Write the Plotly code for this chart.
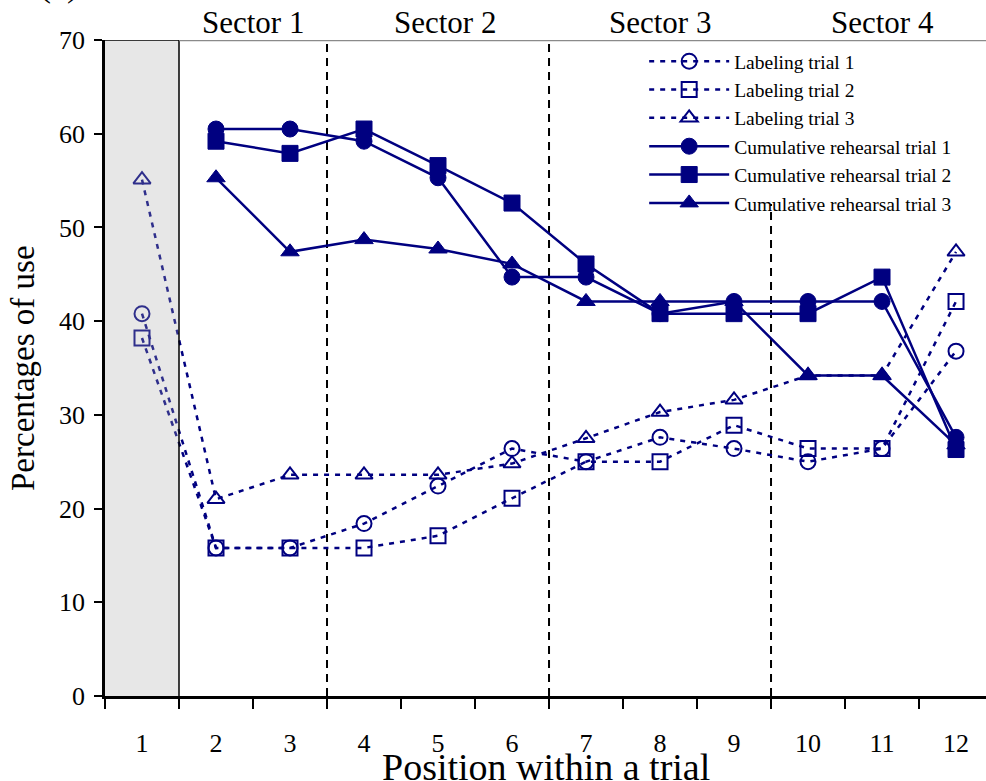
import plotly.graph_objects as go

positions = list(range(1, 13))
tick_labels = [str(p) for p in positions]

labeling_1 = [40.8, 15.8, 15.8, 18.4, 22.4, 26.4, 25.0, 27.6, 26.4, 25.0, 26.4, 36.8]
labeling_2 = [38.2, 15.8, 15.8, 15.8, 17.1, 21.1, 25.0, 25.0, 28.9, 26.4, 26.4, 42.1]
labeling_3 = [55.1, 21.0, 23.6, 23.6, 23.6, 24.8, 27.5, 30.3, 31.6, 34.2, 34.2, 47.4]

cum_positions = list(range(2, 13))
cumulative_1 = [60.5, 60.5, 59.2, 55.3, 44.7, 44.7, 40.8, 42.1, 42.1, 42.1, 27.6]
cumulative_2 = [59.2, 57.9, 60.5, 56.6, 52.6, 46.1, 40.8, 40.8, 40.8, 44.7, 26.3]
cumulative_3 = [55.3, 47.4, 48.7, 47.7, 46.1, 42.1, 42.1, 42.1, 34.2, 34.2, 26.8]

sector_names = ["Sector 1", "Sector 2", "Sector 3", "Sector 4"]
sector_centers = [2.5, 5.1, 8.0, 11.0]
sector_bounds = [3.5, 6.5, 9.5]

NAVY = "#000080"
FONT = "Liberation Serif"

fig = go.Figure()

lab_series = [("Labeling trial 1", labeling_1, "circle-open"),
              ("Labeling trial 2", labeling_2, "square-open"),
              ("Labeling trial 3", labeling_3, "triangle-up-open")]
for name, vals, sym in lab_series:
    fig.add_trace(go.Scatter(
        x=positions, y=vals, name=name, mode="lines+markers",
        line=dict(color=NAVY, width=2.5, dash="5px,6px"),
        marker=dict(symbol=sym, size=15, color=NAVY, line=dict(color=NAVY, width=2)),
    ))

cum_series = [("Cumulative rehearsal trial 1", cumulative_1, "circle"),
              ("Cumulative rehearsal trial 2", cumulative_2, "square"),
              ("Cumulative rehearsal trial 3", cumulative_3, "triangle-up")]
for name, vals, sym in cum_series:
    fig.add_trace(go.Scatter(
        x=cum_positions, y=vals, name=name, mode="lines+markers",
        line=dict(color=NAVY, width=2.5),
        marker=dict(symbol=sym, size=16, color=NAVY, line=dict(color=NAVY, width=1)),
    ))

shapes = []
# gray overlay for position 1
shapes.append(dict(type="rect", xref="x", yref="y", x0=0.5, x1=1.5, y0=0, y1=70,
                   fillcolor="rgba(170,170,170,0.28)", line=dict(width=0), layer="above"))
shapes.append(dict(type="line", xref="x", yref="y", x0=1.5, x1=1.5, y0=0, y1=70,
                   line=dict(color="black", width=1.5), layer="above"))
shapes.append(dict(type="line", xref="x", yref="y", x0=0.5, x1=1.5, y0=70, y1=70,
                   line=dict(color="black", width=1.5), layer="above"))
# top gray border
shapes.append(dict(type="line", xref="x", yref="y", x0=1.5, x1=12.5, y0=70, y1=70,
                   line=dict(color="#8a8a8a", width=2.5), layer="above"))
# sector boundaries
for i, b in enumerate(sector_bounds):
    top = 70 if i < 2 else 52.5
    shapes.append(dict(type="line", xref="x", yref="y", x0=b, x1=b, y0=0, y1=top,
                       line=dict(color="black", width=2, dash="8px,6px"), layer="below"))

annotations = []
for name, c in zip(sector_names, sector_centers):
    annotations.append(dict(x=c, y=70, xref="x", yref="y", text=name, showarrow=False,
                            yanchor="bottom", yshift=-2, font=dict(family=FONT, size=31, color="black")))
annotations.append(dict(x=0.5, y=0, xref="paper", yref="paper", text="Position within a trial",
                        showarrow=False, yanchor="middle", yshift=-71,
                        font=dict(family=FONT, size=38, color="black")))
annotations.append(dict(x=0, y=0.5, xref="paper", yref="paper", text="Percentages of use",
                        showarrow=False, textangle=-90, xanchor="center", xshift=-82,
                        font=dict(family=FONT, size=33, color="black")))
annotations.append(dict(x=0, y=1, xref="paper", yref="paper", text="(a)",
                        showarrow=False, xshift=-68, yshift=34, yanchor="bottom",
                        font=dict(family=FONT, size=36, color="black")))

fig.update_layout(
    width=986, height=781,
    margin=dict(l=105, r=0, t=40, b=85),
    plot_bgcolor="white", paper_bgcolor="white",
    font=dict(family=FONT, color="black"),
    shapes=shapes, annotations=annotations,
    legend=dict(x=0.612, y=0.997, xanchor="left", yanchor="top",
                bgcolor="rgba(255,255,255,0)", font=dict(family=FONT, size=19.5, color="black"),
                itemwidth=80, tracegroupgap=0),
    xaxis=dict(range=[0.5, 12.405], tickmode="array", tickvals=positions, ticktext=tick_labels,
               ticks="", showgrid=False, zeroline=False, showline=True, linecolor="black",
               linewidth=2.5, tickfont=dict(family=FONT, size=26, color="black"), ticklabelstandoff=22,
               minor=dict(tickvals=[p + 0.5 for p in [0] + positions], ticks="outside",
                          ticklen=10, tickwidth=2, tickcolor="black", showgrid=False)),
    yaxis=dict(range=[0, 70], tickvals=[0, 10, 20, 30, 40, 50, 60, 70], ticks="outside",
               ticklen=8, tickwidth=2, tickcolor="black", showgrid=False, zeroline=False,
               showline=True, linecolor="black", linewidth=2.5, ticklabelstandoff=4,
               tickfont=dict(family=FONT, size=26, color="black")),
)

fig.write_html("out.html", config={"displayModeBar": False},
               post_script="document.body.style.margin='0';document.body.style.overflow='hidden';")
